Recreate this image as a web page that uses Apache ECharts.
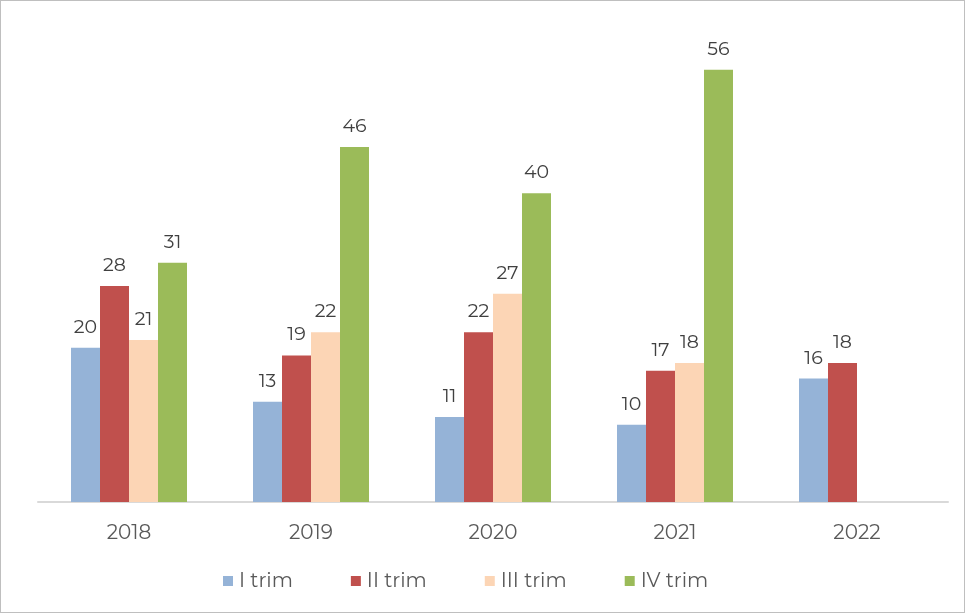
<!DOCTYPE html>
<html>
<head>
<meta charset="utf-8">
<script src="https://cdn.jsdelivr.net/npm/echarts@6/dist/echarts.min.js"></script>
<style>
  html, body { margin: 0; padding: 0; background: #fff; }
  #myChart { width: 963px; height: 611px; border: 1px solid #bfbfbf; }
</style>
</head>
<body>
<div id="myChart"></div>
<script>
// categorie e valori
var years = ['2018', '2019', '2020', '2021', '2022'];
var trim1 = [20, 13, 11, 10, 16];
var trim2 = [28, 19, 22, 17, 18];
var trim3 = [21, 22, 27, 18, null];
var trim4 = [31, 46, 40, 56, null];

var colors = ['#95b3d7', '#c0504d', '#fcd5b5', '#9bbb59'];
var font = 'Montserrat, "Open Sans", Lato, sans-serif';

function makeSeries(name, data) {
  return {
    name: name,
    type: 'bar',
    data: data,
    barWidth: 29,
    barGap: '0%',
    label: {
      show: true,
      position: 'top',
      distance: 11,
      color: '#404040',
      fontSize: 19,
      fontFamily: font
    }
  };
}

var chart = echarts.init(document.getElementById('myChart'));
chart.setOption({
  color: colors,
  animation: false,
  textStyle: { fontFamily: font },
  grid: { left: 37, right: 16, top: 38, bottom: 110 },
  legend: {
    bottom: 16,
    left: 217,
    itemWidth: 10,
    itemHeight: 10,
    itemGap: 58,
    icon: 'rect',
    textStyle: { color: '#595959', fontSize: 20, fontFamily: font, padding: [0, 0, 0, 1] },
    data: ['I trim', 'II trim', 'III trim', 'IV trim']
  },
  xAxis: {
    type: 'category',
    data: years,
    axisTick: { show: false },
    axisLine: { lineStyle: { color: '#d9d9d9', width: 2 } },
    axisLabel: { color: '#595959', fontSize: 20, margin: 21, fontFamily: font }
  },
  yAxis: {
    type: 'value',
    min: 0,
    max: 60,
    show: false,
    splitLine: { show: false }
  },
  series: [
    makeSeries('I trim', trim1),
    makeSeries('II trim', trim2),
    makeSeries('III trim', trim3),
    makeSeries('IV trim', trim4)
  ]
});
</script>
</body>
</html>
